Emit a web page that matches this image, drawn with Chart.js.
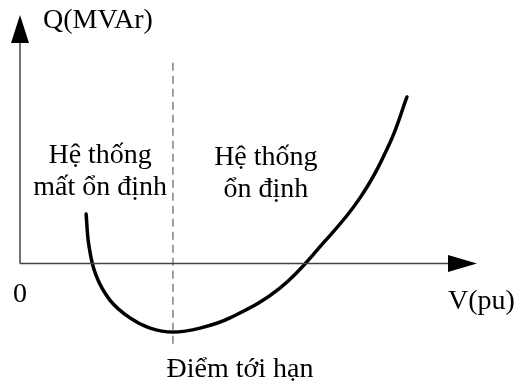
<!DOCTYPE html>
<html>
<head>
<meta charset="utf-8">
<script src="https://cdn.jsdelivr.net/npm/chart.js@4"></script>
<style>
  html, body { margin: 0; padding: 0; background: #fff; }
  #wrap { width: 515px; height: 386px; }
</style>
</head>
<body>
<div id="wrap"><canvas id="qv" width="515" height="386"></canvas></div>
<script>
// Đường cong Q-V (giá trị ước lượng từ hình)
const voltage  = [0.217, 0.226, 0.249, 0.295, 0.361, 0.427, 0.502, 0.591, 0.689, 0.853, 0.995, 1.116, 1.214, 1.270];
const reactive = [0.199, 0.074, -0.046, -0.147, -0.219, -0.260, -0.276, -0.260, -0.219, -0.099, 0.082, 0.264, 0.485, 0.670];

const criticalV = 0.502;          // điểm tới hạn
const dashedQ   = [0.808, -0.34];
const axisV     = [0, 1.5];       // trục V(pu)
const axisQ     = [-0.34, 1.0];   // trục Q(MVAr)

const textFont = '28px "Liberation Serif", "Times New Roman", serif';
const labels = [
  { text: 'Q(MVAr)', v: 0.0755, q: 0.948, align: 'left' },
  { text: '0', v: 0, q: -0.155, align: 'center' },
  { text: 'V(pu)', v: 1.405, q: -0.183, align: 'left' },
  { text: 'Hệ thống', v: 0.263, q: 0.404, align: 'center' },
  { text: 'mất ổn định', v: 0.263, q: 0.276, align: 'center' },
  { text: 'Hệ thống', v: 0.807, q: 0.396, align: 'center' },
  { text: 'ổn định', v: 0.807, q: 0.268, align: 'center' },
  { text: 'Điểm tới hạn', v: 0.722, q: -0.457, align: 'center' }
];

const curvePts = voltage.map((v, i) => ({ x: v, y: reactive[i] }));

// Vẽ mũi tên và chữ
const decorPlugin = {
  id: 'decor',
  afterDatasetsDraw(chart) {
    const ctx = chart.ctx;
    const xs = chart.scales.x, ys = chart.scales.y;
    ctx.save();
    ctx.fillStyle = '#000';
    // mũi tên trục Q
    let tx = xs.getPixelForValue(0), ty = ys.getPixelForValue(axisQ[1]);
    ctx.beginPath();
    ctx.moveTo(tx, ty);
    ctx.lineTo(tx - 9, ty + 28);
    ctx.lineTo(tx + 9, ty + 28);
    ctx.closePath();
    ctx.fill();
    // mũi tên trục V
    tx = xs.getPixelForValue(axisV[1]); ty = ys.getPixelForValue(0);
    ctx.beginPath();
    ctx.moveTo(tx, ty);
    ctx.lineTo(tx - 29, ty - 8.5);
    ctx.lineTo(tx - 29, ty + 8.5);
    ctx.closePath();
    ctx.fill();

    ctx.font = textFont;
    ctx.textBaseline = 'alphabetic';
    labels.forEach(l => {
      ctx.textAlign = l.align;
      ctx.fillText(l.text, xs.getPixelForValue(l.v), ys.getPixelForValue(l.q));
    });
    ctx.restore();
  }
};

new Chart(document.getElementById('qv'), {
  type: 'scatter',
  data: {
    datasets: [
      { // trục V
        data: [{ x: axisV[0], y: 0 }, { x: 1.405, y: 0 }],
        showLine: true, borderColor: '#444', borderWidth: 1.5, pointRadius: 0
      },
      { // trục Q
        data: [{ x: 0, y: 0 }, { x: 0, y: 0.887 }],
        showLine: true, borderColor: '#444', borderWidth: 1.5, pointRadius: 0
      },
      { // đường đứt nét qua điểm tới hạn
        data: [{ x: criticalV, y: dashedQ[0] }, { x: criticalV, y: dashedQ[1] }],
        showLine: true, borderColor: '#808080', borderWidth: 1.5, borderDash: [8, 5], pointRadius: 0
      },
      { // đường cong Q-V
        data: curvePts,
        showLine: true, borderColor: '#000', borderWidth: 3.5, pointRadius: 0,
        tension: 0.4, borderCapStyle: 'round', borderJoinStyle: 'round'
      }
    ]
  },
  options: {
    responsive: false,
    animation: false,
    clip: false,
    layout: { padding: { left: 20, right: 38, top: 15, bottom: 38 } },
    plugins: { legend: { display: false }, tooltip: { enabled: false } },
    scales: {
      x: { type: 'linear', display: false, min: axisV[0], max: axisV[1] },
      y: { type: 'linear', display: false, min: axisQ[0], max: axisQ[1] }
    }
  },
  plugins: [decorPlugin]
});
</script>
</body>
</html>
